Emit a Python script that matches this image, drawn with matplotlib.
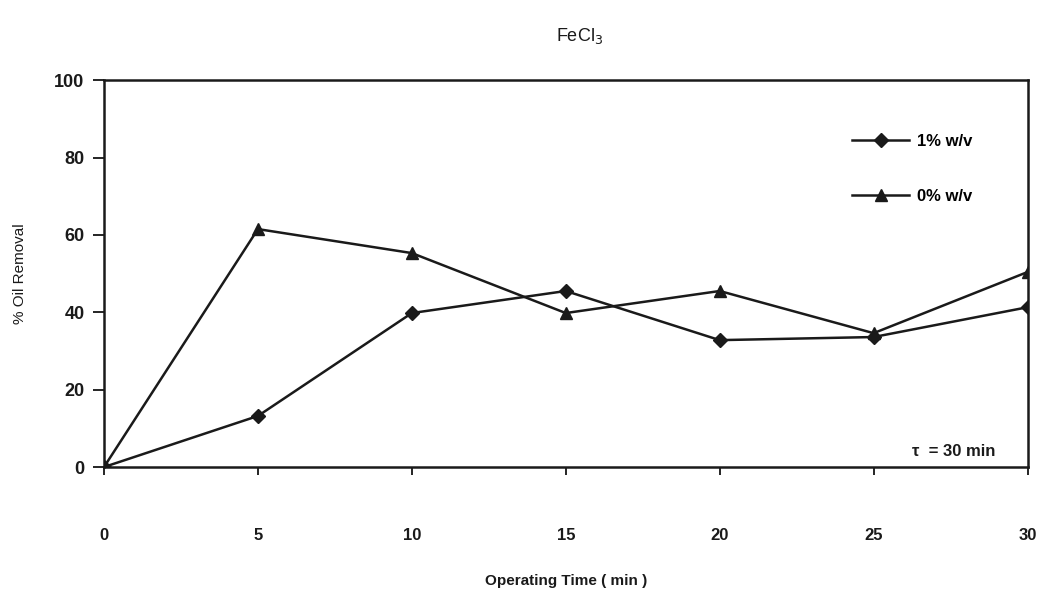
import matplotlib
matplotlib.use("Agg")
import matplotlib.pyplot as plt

time = [0, 5, 10, 15, 20, 25, 30]
one_pct = [0, 13.2, 39.8, 45.5, 32.8, 33.6, 41.3]
zero_pct = [0, 61.5, 55.3, 39.8, 45.5, 34.6, 50.4]
xticks = [0, 5, 10, 15, 20, 25, 30]
yticks = [0, 20, 40, 60, 80, 100]

plt.rcParams['font.family'] = ['Liberation Sans', 'DejaVu Sans']

fig = plt.figure(figsize=(10.4, 5.98), dpi=100)
ax = fig.add_axes([0.1, 0.219, 0.888, 0.647])

ax.plot(time, one_pct, color='#1a1a1a', lw=1.8, marker='D', ms=7, label='1% w/v')
ax.plot(time, zero_pct, color='#1a1a1a', lw=1.8, marker='^', ms=8, label='0% w/v')

ax.set_xlim(0, 30)
ax.set_ylim(0, 100)
ax.set_xticks(xticks)
ax.set_yticks(yticks)
ax.tick_params(axis='x', direction='out', length=6, width=1.2, pad=38, labelsize=12)
ax.tick_params(axis='y', direction='out', length=8, width=1.2, pad=6, labelsize=13)
for lab in ax.get_xticklabels() + ax.get_yticklabels():
    lab.set_fontweight('bold')
    lab.set_color('#1a1a1a')
for s in ax.spines.values():
    s.set_linewidth(1.8)
    s.set_color('#1a1a1a')

ax.set_xlabel('Operating Time ( min )', fontsize=11, fontweight='bold', color='#1a1a1a', labelpad=22)
ax.set_ylabel('% Oil Removal', fontsize=11, color='#1a1a1a', labelpad=20)
fig.text(0.557, 0.94, 'FeCl$_3$', fontsize=13, ha='center', va='center', color='#1a1a1a')

ax.legend(loc='upper left', bbox_to_anchor=(0.794, 0.90), frameon=False,
          handlelength=3.4, handletextpad=0.5, labelspacing=2.4,
          prop={'weight': 'bold', 'size': 12})
ax.text(0.965, 0.04, 'τ  = 30 min', transform=ax.transAxes, ha='right', va='center',
        fontsize=12, fontweight='bold', color='#1a1a1a')

fig.savefig('out.png', dpi=100)
